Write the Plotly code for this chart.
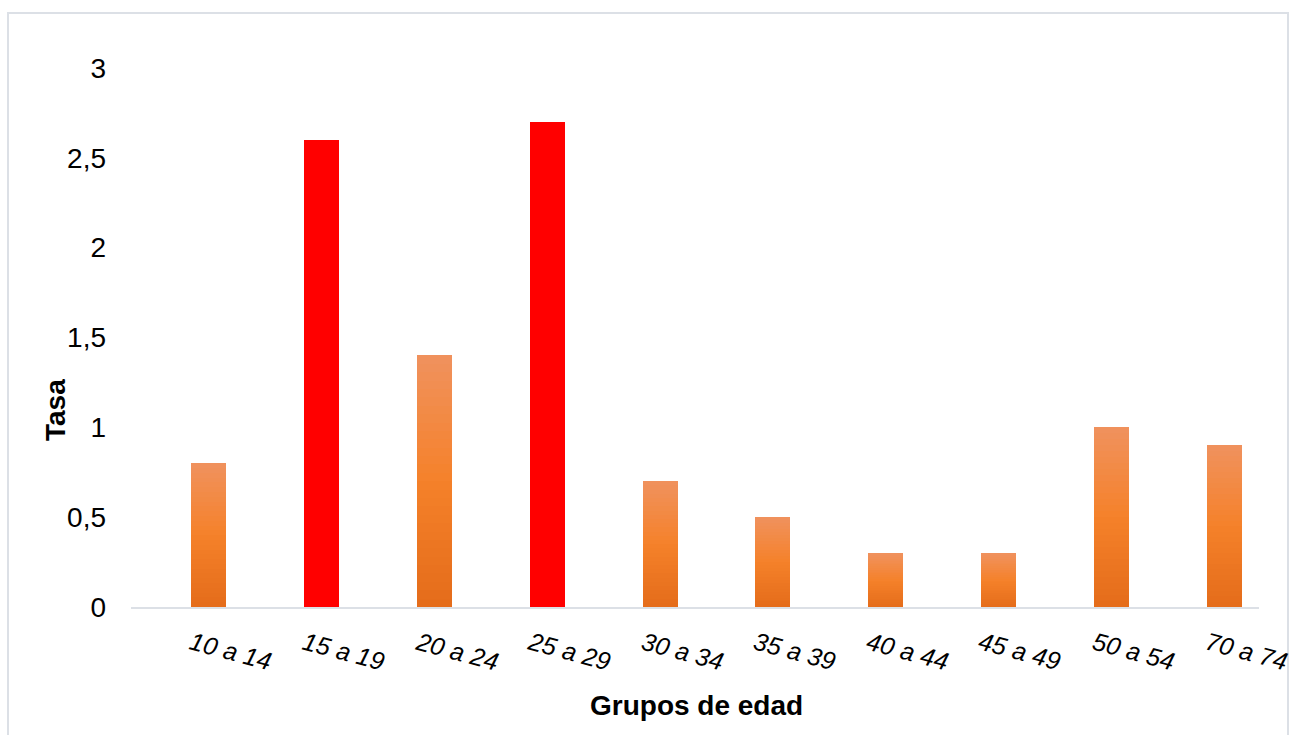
import plotly.graph_objects as go

categories = ["10 a 14", "15 a 19", "20 a 24", "25 a 29", "30 a 34",
              "35 a 39", "40 a 44", "45 a 49", "50 a 54", "70 a 74"]
values = [0.8, 2.6, 1.4, 2.7, 0.7, 0.5, 0.3, 0.3, 1.0, 0.9]
highlight = [False, True, False, True, False, False, False, False, False, False]
y_ticks = [0, 0.5, 1, 1.5, 2, 2.5, 3]
y_tick_labels = ["0", "0,5", "1", "1,5", "2", "2,5", "3"]

FONT = "Liberation Sans, Arial, sans-serif"
RED = "#FF0000"
# gradient stops for the orange bars: top -> middle -> bottom
STOPS = [(0.0, (240, 146, 94)), (0.5, (245, 129, 42)), (1.0, (228, 108, 26))]


def grad_color(t):
    # t = 0 at bar top, 1 at bar bottom
    for (t0, c0), (t1, c1) in zip(STOPS[:-1], STOPS[1:]):
        if t0 <= t <= t1:
            f = (t - t0) / (t1 - t0)
            c = [round(a + (b - a) * f) for a, b in zip(c0, c1)]
            return "rgb(%d,%d,%d)" % tuple(c)
    return "rgb(%d,%d,%d)" % STOPS[-1][1]


fig = go.Figure()
N = 30
xidx = list(range(len(categories)))
# each bar is drawn as N stacked slices (bottom to top) to render the gradient
for k in range(N):
    t = 1 - (k + 0.5) / N  # 1 at bottom slice, 0 at top slice
    col = grad_color(t)
    fig.add_trace(go.Bar(
        x=xidx,
        y=[v / N for v in values],
        width=0.31,
        marker=dict(color=[RED if h else col for h in highlight], line=dict(width=0)),
        hoverinfo="skip",
        showlegend=False,
    ))

W, H = 1290, 735
L, R, T, B = 131, 31, 68, 128
pw, ph = W - L - R, H - T - B


def px_x(p):
    return (p - L) / pw


def px_y(p):
    return (H - B - p) / ph


annotations = []
for i, c in enumerate(categories):
    annotations.append(dict(
        x=i, xref="x", xshift=22, y=px_y(651), yref="paper",
        text="<i>%s</i>" % c, showarrow=False, textangle=15,
        xanchor="center", yanchor="middle",
        font=dict(family=FONT, size=25, color="#000000"),
    ))
annotations.append(dict(
    x=px_x(696), xref="paper", y=px_y(705), yref="paper",
    text="<b>Grupos de edad</b>", showarrow=False,
    xanchor="center", yanchor="middle",
    font=dict(family=FONT, size=28, color="#000000"),
))
annotations.append(dict(
    x=px_x(55), xref="paper", y=px_y(410), yref="paper",
    text="<b>Tasa</b>", showarrow=False, textangle=-90,
    xanchor="center", yanchor="middle",
    font=dict(family=FONT, size=28, color="#000000"),
))

fig.update_layout(
    width=W, height=H,
    margin=dict(l=L, r=R, t=T, b=B, pad=0),
    paper_bgcolor="white", plot_bgcolor="white",
    barmode="stack", bargap=0,
    separators=",.",
    font=dict(family=FONT, color="#000000"),
    xaxis=dict(
        range=[-0.691, 9.31], showticklabels=False, showgrid=False,
        zeroline=False, showline=True, linecolor="#DCE0E6", linewidth=2,
        ticks="", fixedrange=True,
    ),
    yaxis=dict(
        range=[0, 3], tickvals=y_ticks, ticktext=y_tick_labels,
        showgrid=False, zeroline=False, showline=False,
        tickfont=dict(family=FONT, size=28, color="#000000"),
        ticklabelstandoff=24, ticks="",
    ),
    annotations=annotations,
    shapes=[dict(
        type="rect", xref="paper", yref="paper",
        x0=px_x(8), x1=px_x(1288), y0=px_y(745), y1=px_y(13),
        line=dict(color="#DCE0E6", width=2), fillcolor="rgba(0,0,0,0)",
        layer="below",
    )],
)

fig.write_html("out.html", config={"displayModeBar": False})

# remove the default page margin so the figure sits at the window's top-left
with open("out.html", "r", encoding="utf-8") as fh:
    html = fh.read()
html = html.replace("<head>", "<head><style>html,body{margin:0;padding:0;overflow:hidden;}</style>", 1)
with open("out.html", "w", encoding="utf-8") as fh:
    fh.write(html)
